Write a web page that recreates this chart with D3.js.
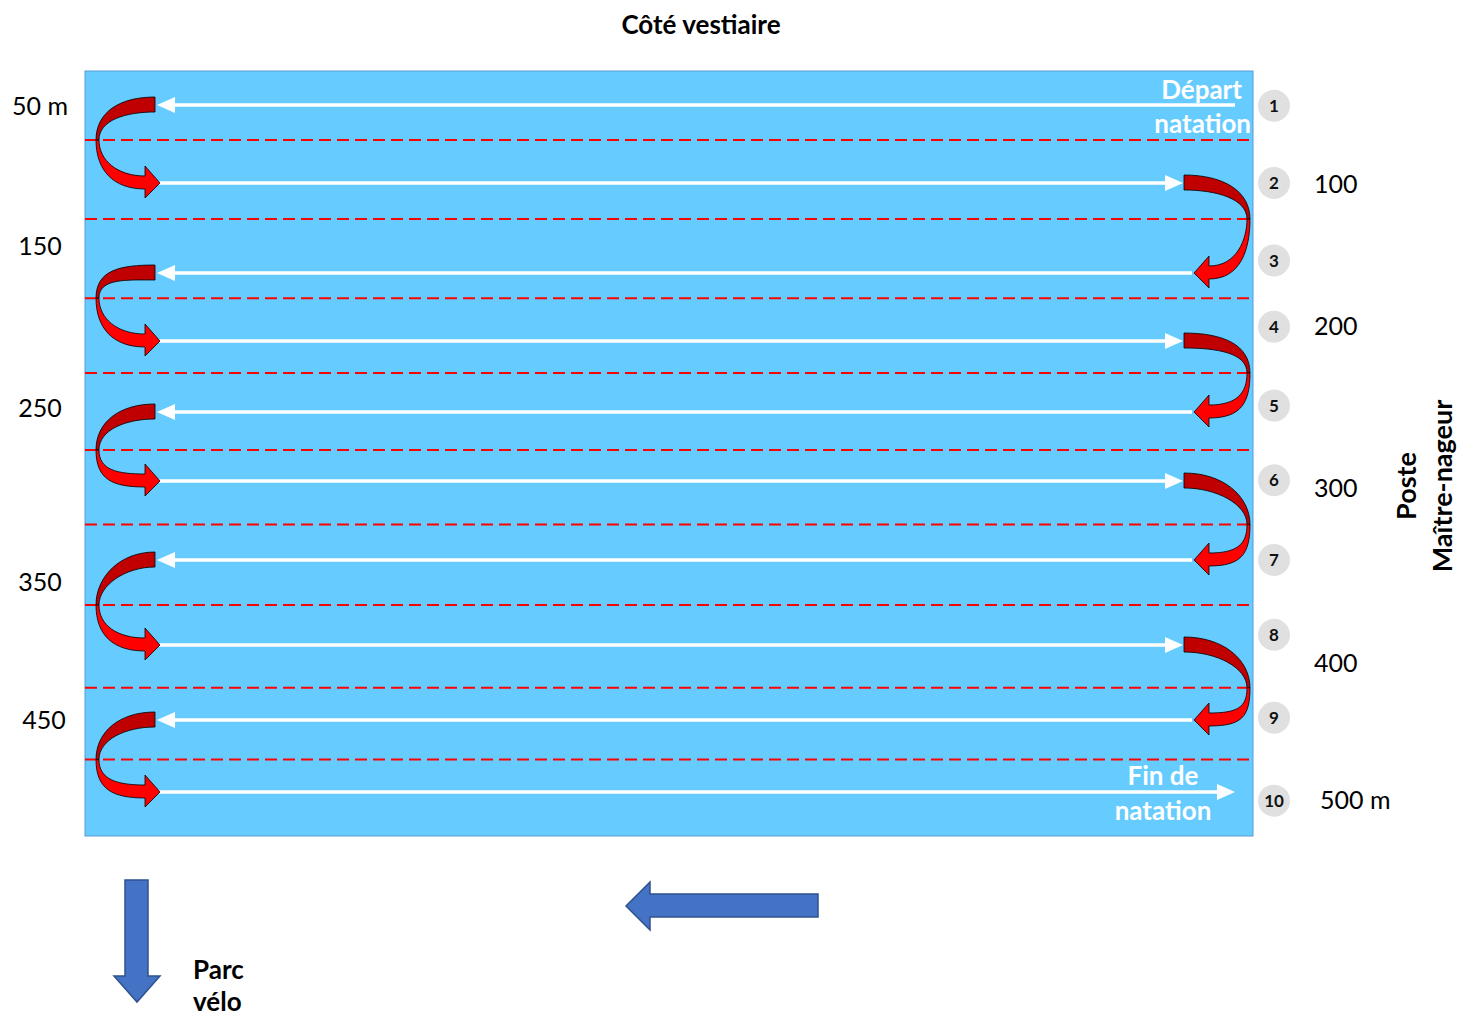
<!DOCTYPE html>
<html>
<head>
<meta charset="utf-8">
<script src="https://cdn.jsdelivr.net/npm/d3@7"></script>
<style>
  body { margin: 0; background: #fff; }
  svg text { font-family: Lato, "Noto Sans", sans-serif; }
</style>
</head>
<body>
<svg id="chart"></svg>
<script>
// Lanes of the swim course (1 = start, 10 = finish)
const lanes      = [1, 2, 3, 4, 5, 6, 7, 8, 9, 10];
const laneDir    = ["left", "right", "left", "right", "left", "right", "left", "right", "left", "right"];
// Lane ropes sit between lanes (fractional lane index)
const ropes      = [1.45, 2.4, 3.37, 4.45, 5.55, 6.55, 7.53, 8.57, 9.55];
// Distance marks, left side and right side (fractional lane index)
const leftMarks  = ["50 m", "150", "250", "350", "450"];
const leftRows   = [1.01, 2.7, 4.95, 7.26, 9.01];
const rightMarks = ["100", "200", "300", "400", "500 m"];
const rightRows  = [2.01, 3.79, 6.09, 8.24, 10.12];
// Badge rows (fractional lane index)
const badgeRows  = [1.01, 2.0, 2.86, 3.79, 4.91, 5.99, 7.0, 7.88, 8.97, 10.12];
// Turns: [from lane, to lane]
const leftTurns  = [[1, 2], [3, 4], [5, 6], [7, 8], [9, 10]];
const rightTurns = [[2, 3], [4, 5], [6, 7], [8, 9]];

const width = 1457, height = 1016;
const svg = d3.select("#chart").attr("width", width).attr("height", height);

// Lane index -> y
const y = d3.scaleLinear()
    .domain(lanes)
    .range([105, 183, 273, 341, 412, 481, 560, 645, 720, 792]);

// Pool
const pool = { x0: 85, x1: 1253, y0: 71, y1: 836 };
svg.append("rect")
   .attr("x", pool.x0).attr("y", pool.y0)
   .attr("width", pool.x1 - pool.x0).attr("height", pool.y1 - pool.y0)
   .attr("fill", "#66CCFF")
   .attr("stroke", "#5B9BD5").attr("stroke-width", 1);

// Title
svg.append("text")
   .attr("x", 701).attr("y", 34)
   .attr("text-anchor", "middle")
   .attr("font-size", 26).attr("font-weight", "bold")
   .text("Côté vestiaire");

// Lane ropes
svg.selectAll(".rope").data(ropes).join("line")
   .attr("class", "rope")
   .attr("x1", pool.x0).attr("x2", pool.x1)
   .attr("y1", d => y(d)).attr("y2", d => y(d))
   .attr("stroke", "#FF0000").attr("stroke-width", 2)
   .attr("stroke-dasharray", "12,6");

// White swim arrows
const xLeftEnd = 157, xRightEnd = 1183;
function laneEnds(i) {
    const lane = lanes[i];
    if (lane === 1) return [1235, xLeftEnd];
    if (lane === 10) return [xLeftEnd, 1235];
    return laneDir[i] === "left" ? [1192, xLeftEnd] : [xLeftEnd, xRightEnd];
}
const swim = svg.append("g");
lanes.forEach((lane, i) => {
    const [xa, xb] = laneEnds(i);
    const yy = y(lane);
    const s = Math.sign(xb - xa);
    const head = 18;
    swim.append("line")
        .attr("x1", xa).attr("x2", xb - s * head)
        .attr("y1", yy).attr("y2", yy)
        .attr("stroke", "#fff").attr("stroke-width", 3.5);
    swim.append("path")
        .attr("d", `M${xb},${yy} L${xb - s * head},${yy - 8} L${xb - s * head},${yy + 8} Z`)
        .attr("fill", "#fff");
});

// Red turn arrows (two pieces, dark upper half and bright lower half)
function turnPaths(yTop, yBot, ym, xEnd, D, s, tipU, barbU) {
    const X = u => xEnd - s * u;
    const upper = `M${X(0)},${yTop - 8}
        C${X(D * 0.6)},${yTop - 8} ${X(D)},${ym - 28} ${X(D)},${ym}
        L${X(D - 3)},${ym}
        C${X(D - 3)},${ym - 20} ${X(D * 0.5)},${yTop + 7} ${X(0)},${yTop + 7} Z`;
    const lower = `M${X(D)},${ym}
        C${X(D)},${ym + 30} ${X(barbU + 32)},${yBot + 6} ${X(barbU)},${yBot + 6}
        L${X(barbU)},${yBot + 15}
        L${X(tipU)},${yBot}
        L${X(barbU)},${yBot - 17}
        L${X(barbU)},${yBot - 7}
        C${X(barbU + 28)},${yBot - 7} ${X(D - 3)},${ym + 20} ${X(D - 3)},${ym} Z`;
    return [upper, lower];
}
const turns = svg.append("g");
function drawTurn(pair, ropeY, side) {
    const yTop = y(pair[0]), yBot = y(pair[1]);
    const p = side === "left"
        ? turnPaths(yTop, yBot, ropeY, 155, 59, 1, -5, 10)
        : turnPaths(yTop, yBot, ropeY, 1184, 66, -1, 10, 25);
    turns.append("path").attr("d", p[0])
         .attr("fill", "#C00000").attr("stroke", "#000").attr("stroke-width", 0.8);
    turns.append("path").attr("d", p[1])
         .attr("fill", "#FF0000").attr("stroke", "#000").attr("stroke-width", 0.8);
}
leftTurns.forEach(t => drawTurn(t, y(ropes[t[0] - 1]), "left"));
rightTurns.forEach(t => drawTurn(t, y(ropes[t[0] - 1]), "right"));

// Start / finish labels inside the pool
const inside = svg.append("g")
   .attr("fill", "#fff").attr("font-size", 26).attr("font-weight", "bold");
inside.append("text").attr("x", 1242).attr("y", 99).attr("text-anchor", "end").text("Départ");
inside.append("text").attr("x", 1251).attr("y", 133).attr("text-anchor", "end").text("natation");
inside.append("text").attr("x", 1163).attr("y", 785).attr("text-anchor", "middle").text("Fin de");
inside.append("text").attr("x", 1163).attr("y", 820).attr("text-anchor", "middle").text("natation");

// Numbered lane badges
const badges = svg.selectAll(".badge").data(lanes).join("g")
   .attr("class", "badge")
   .attr("transform", (d, i) => `translate(1274,${y(badgeRows[i])})`);
badges.append("circle").attr("r", 16).attr("fill", "#E0E0E0");
badges.append("text")
   .attr("text-anchor", "middle").attr("dy", "0.36em")
   .attr("font-size", 17).attr("font-weight", "bold").attr("fill", "#111")
   .text(d => d);

// Distance marks
svg.selectAll(".lmark").data(leftMarks).join("text")
   .attr("class", "lmark")
   .attr("x", (d, i) => i === 0 ? 40 : i === 4 ? 44 : 40)
   .attr("y", (d, i) => y(leftRows[i]))
   .attr("dy", "0.35em")
   .attr("text-anchor", "middle").attr("font-size", 25)
   .text(d => d);
svg.selectAll(".rmark").data(rightMarks).join("text")
   .attr("class", "rmark")
   .attr("x", (d, i) => i === 4 ? 1320 : 1314)
   .attr("y", (d, i) => y(rightRows[i]))
   .attr("dy", "0.35em")
   .attr("font-size", 25)
   .text(d => d);

// Lifeguard post
const post = svg.append("g").attr("font-size", 27).attr("font-weight", "bold").attr("text-anchor", "middle");
post.append("text").attr("transform", "translate(1416,486) rotate(-90)").text("Poste");
post.append("text").attr("transform", "translate(1452,486) rotate(-90)").text("Maître-nageur");

// Blue exit arrows
const blue = svg.append("g").attr("fill", "#4472C4").attr("stroke", "#2F528F").attr("stroke-width", 1.5);
blue.append("path").attr("d", "M125,880 L148,880 L148,976 L160,976 L137,1002 L114,976 L125,976 Z");
blue.append("path").attr("d", "M818,894 L818,917 L650,917 L650,930 L626,906 L650,882 L650,894 Z");

const parc = svg.append("g").attr("font-size", 26).attr("font-weight", "bold");
parc.append("text").attr("x", 193).attr("y", 979).text("Parc");
parc.append("text").attr("x", 193).attr("y", 1011).text("vélo");
</script>
</body>
</html>
